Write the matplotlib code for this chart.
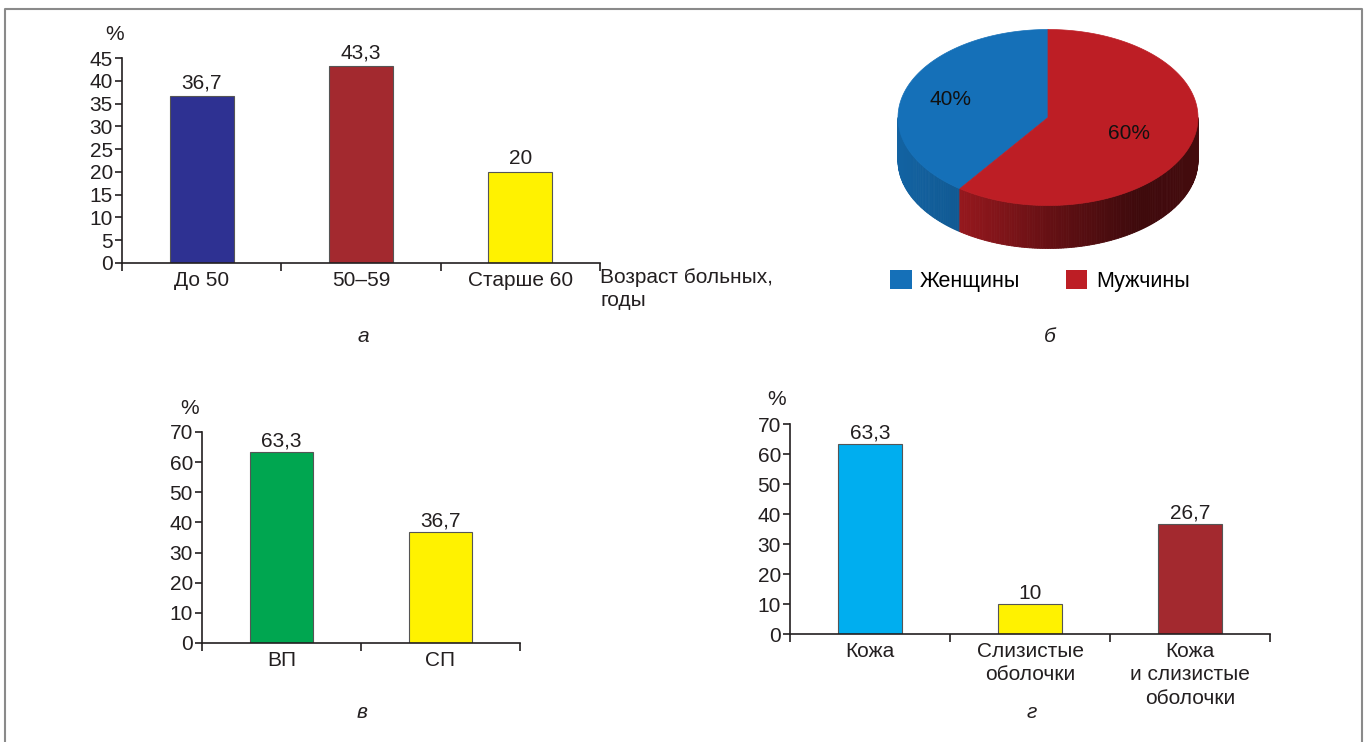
import numpy as np
import matplotlib
matplotlib.use('Agg')
from matplotlib import pyplot as plt
from matplotlib.patches import Polygon, Patch
from matplotlib.lines import Line2D

plt.rcParams['font.family'] = ['Liberation Sans', 'DejaVu Sans']

W, H = 1368, 742
INK = '#231f20'
FS = 15

# panel a - age
age_groups = ['До 50', '50–59', 'Старше 60']
age_values = [36.7, 43.3, 20]
age_colors = ['#2e3192', '#a3292f', '#fff200']

# panel б - sex
sex_labels = ['Женщины', 'Мужчины']
sex_values = [40, 60]
sex_colors = ['#1570b8', '#bd1e25']

# panel в - form
form_labels = ['ВП', 'СП']
form_values = [63.3, 36.7]
form_colors = ['#00a650', '#fff200']

# panel г - localisation
loc_labels = ['Кожа', 'Слизистые\nоболочки', 'Кожа\nи слизистые\nоболочки']
loc_values = [63.3, 10, 36.7]
loc_texts = ['63,3', '10', '26,7']  # printed like this in the source
loc_colors = ['#00aeef', '#fff200', '#a3292f']


def fpos(x0, y0, x1, y1):
    # pixel box -> figure rect
    return [x0 / W, 1 - y1 / H, (x1 - x0) / W, (y1 - y0) / H]


def fxy(x, y):
    return x / W, 1 - y / H


def fmt(v):
    return ('%g' % v).replace('.', ',')


fig = plt.figure(figsize=(W / 100, H / 100), dpi=100)


def bar_panel(rect, cats, vals, texts, colors, ymax, step, lab_off):
    ax = fig.add_axes(rect)
    n = len(cats)
    x = np.arange(n)
    ax.bar(x, vals, width=0.4, color=colors, edgecolor='#555555', linewidth=0.8, zorder=2)
    for xi, v, t in zip(x, vals, texts):
        ax.annotate(t, (xi, v), xytext=(0, lab_off), textcoords='offset points',
                    ha='center', va='bottom', fontsize=FS, color=INK)
    ax.set_xlim(-0.5, n - 0.5)
    ax.set_ylim(0, ymax)
    ax.set_yticks(np.arange(0, ymax + 1, step))
    ax.set_xticks(x)
    ax.set_xticklabels(cats)
    for lab in ax.get_xticklabels():
        lab.set_linespacing(1.32)
    ax.set_xticks(np.arange(-0.5, n, 1), minor=True)
    ax.tick_params(axis='x', which='major', length=0, pad=5.5, labelsize=FS, labelcolor=INK)
    ax.tick_params(axis='x', which='minor', length=6, width=1.2, direction='out', color=INK)
    ax.tick_params(axis='y', length=5, width=1.2, labelsize=FS, pad=1.5, color=INK, labelcolor=INK)
    for s in ['top', 'right']:
        ax.spines[s].set_visible(False)
    for s in ['left', 'bottom']:
        ax.spines[s].set_color(INK)
        ax.spines[s].set_linewidth(1.2)
    ax.patch.set_alpha(0)
    return ax


# a
bar_panel(fpos(122, 58, 600, 263), age_groups, age_values, [fmt(v) for v in age_values],
          age_colors, 45, 5, 2.5)
fig.text(*fxy(115, 35), '%', ha='center', va='center', fontsize=FS, color=INK)
fig.text(*fxy(600, 268), 'Возраст больных,\nгоды', ha='left', va='top', fontsize=FS,
         color=INK, linespacing=1.25)

# в
bar_panel(fpos(202, 432, 520, 643), form_labels, form_values, [fmt(v) for v in form_values],
          form_colors, 70, 10, 1.0)
fig.text(*fxy(190, 408), '%', ha='center', va='center', fontsize=FS, color=INK)

# г
bar_panel(fpos(790, 424, 1270, 634), loc_labels, loc_values, loc_texts,
          loc_colors, 70, 10, 1.0)
fig.text(*fxy(777, 400), '%', ha='center', va='center', fontsize=FS, color=INK)

# б - pseudo 3D pie
pax = fig.add_axes(fpos(880, 20, 1220, 260))
pax.set_xlim(-168, 172)
pax.set_ylim(-142.5, 97.5)
pax.axis('off')
rx, ry, depth = 150, 88, 43

fr = np.array(sex_values, dtype=float) / sum(sex_values)
bounds = 90 + 360 * np.concatenate([[0], np.cumsum(fr)])

# side wall (front half only)
for i in range(len(sex_values)):
    base = np.array(matplotlib.colors.to_rgb(sex_colors[i]))
    ts = np.arange(bounds[i], bounds[i + 1], 1.0)
    for t in ts:
        t2 = min(t + 1.0, bounds[i + 1])
        tm = t % 360
        if tm < 180 or tm >= 360:
            continue
        a1, a2 = np.radians(t), np.radians(t2)
        x1, y1 = rx * np.cos(a1), ry * np.sin(a1)
        x2, y2 = rx * np.cos(a2), ry * np.sin(a2)
        m = np.interp(np.cos((a1 + a2) / 2), [-1, -0.6, 0.1, 0.6, 1],
                      [0.88, 0.8, 0.5, 0.33, 0.36])
        c = np.clip(base * m, 0, 1)
        pax.add_patch(Polygon([(x1, y1), (x2, y2), (x2, y2 - depth), (x1, y1 - depth)],
                              closed=True, facecolor=c, edgecolor=c, linewidth=0.6))

# top face
for i in range(len(sex_values)):
    a = np.radians(np.linspace(bounds[i], bounds[i + 1], 200))
    pts = np.column_stack([np.r_[0, rx * np.cos(a)], np.r_[0, ry * np.sin(a)]])
    pax.add_patch(Polygon(pts, closed=True, facecolor=sex_colors[i],
                          edgecolor=sex_colors[i], linewidth=0.5))

label_r = [0.68, 0.57]
for i, v in enumerate(sex_values):
    mid = np.radians((bounds[i] + bounds[i + 1]) / 2)
    pax.text(label_r[i] * rx * np.cos(mid), label_r[i] * ry * np.sin(mid), '%d%%' % v,
             ha='center', va='center', fontsize=15, color='#111111')

handles = [Patch(facecolor=c, edgecolor='none') for c in sex_colors]
fig.legend(handles, sex_labels, loc='center left', bbox_to_anchor=fxy(890, 281), ncol=2,
           frameon=False, fontsize=15.5, handlelength=1.0, handleheight=1.0,
           handletextpad=0.4, columnspacing=2.1, borderpad=0, borderaxespad=0)

# panel letters
for s, (x, y) in zip(['а', 'б', 'в', 'г'], [(363, 337), (1050, 337), (362, 712), (1032, 712)]):
    fig.text(*fxy(x, y), s, ha='center', va='center', fontsize=15, style='italic', color=INK)

# outer frame
fig.add_artist(Line2D([5 / W, 5 / W, 1362 / W, 1362 / W], [0, 1 - 9 / H, 1 - 9 / H, 0],
                      transform=fig.transFigure, color='#8a8a8a', linewidth=1.5))

fig.savefig('out.png', dpi=100)
